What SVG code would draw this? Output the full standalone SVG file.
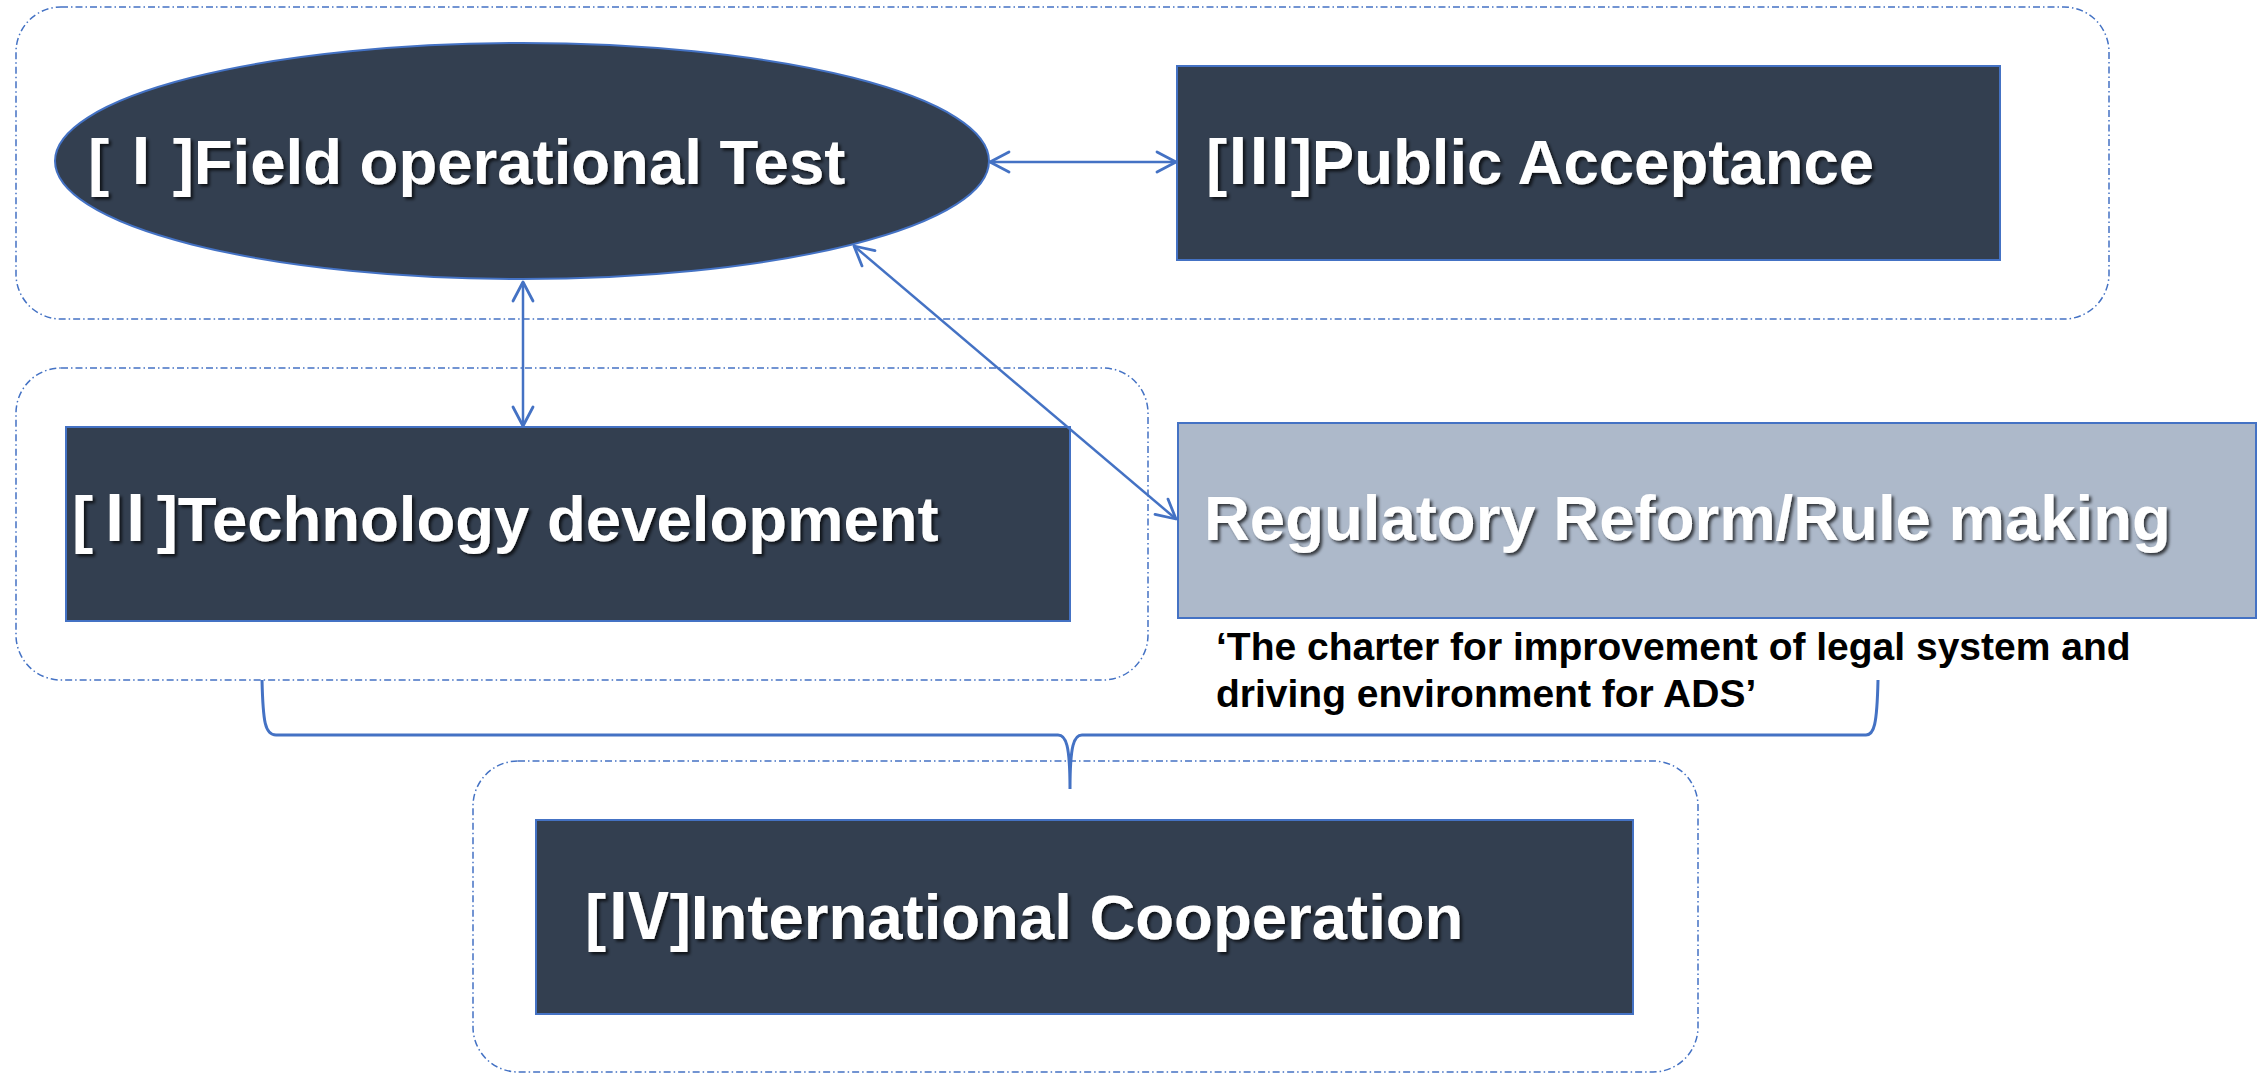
<svg xmlns="http://www.w3.org/2000/svg" width="2264" height="1074" viewBox="0 0 2264 1074">
  <defs>
    <filter id="shadow" x="-5%" y="-20%" width="110%" height="140%">
      <feDropShadow dx="2.5" dy="2.5" stdDeviation="1.5" flood-color="#000000" flood-opacity="0.7"/>
    </filter>
    <marker id="arrow" viewBox="-22 -12 26 24" refX="0" refY="0" markerWidth="26" markerHeight="24" markerUnits="userSpaceOnUse" orient="auto-start-reverse">
      <path d="M -19 -10 L 0 0 L -19 10" fill="none" stroke="#4472C4" stroke-width="2.8" stroke-linecap="round" stroke-linejoin="round"/>
    </marker>
  </defs>
  <style>
    .frame { fill: none; stroke: #4472C4; stroke-width: 1.5; stroke-dasharray: 7 3 1.5 3; }
    .dark { fill: #333F50; stroke: #4472C4; stroke-width: 2; }
    .light { fill: #ADB9CA; stroke: #4472C4; stroke-width: 2; }
    .title { font-family: "Liberation Sans", Arial, sans-serif; font-weight: bold; font-size: 63.5px; fill: #FFFFFF; filter: url(#shadow); }
    .num { font-family: "Noto Sans CJK KR", "Liberation Sans", sans-serif; font-weight: bold; }
    .note { font-family: "Liberation Sans", Arial, sans-serif; font-weight: bold; font-size: 39px; fill: #000000; }
    .conn { fill: none; stroke: #4472C4; stroke-width: 2.5; }
    .brace { fill: none; stroke: #4472C4; stroke-width: 3; }
  </style>

  <g id="frames">
    <rect class="frame" x="16" y="7" width="2093" height="312" rx="45" ry="45"/>
    <rect class="frame" x="16" y="368" width="1132" height="312" rx="45" ry="45"/>
    <rect class="frame" x="473" y="761" width="1225" height="311" rx="45" ry="45"/>
  </g>

  <g id="node-field-test">
    <ellipse class="dark" cx="522" cy="161" rx="467" ry="118"/>
    <text class="title" x="88" y="184">[<tspan class="num">Ⅰ</tspan>]Field operational Test</text>
  </g>

  <g id="node-public-acceptance">
    <rect class="dark" x="1177" y="66" width="823" height="194"/>
    <text class="title" x="1206" y="184">[<tspan class="num">Ⅲ</tspan>]Public Acceptance</text>
  </g>

  <g id="node-technology">
    <rect class="dark" x="66" y="427" width="1004" height="194"/>
    <text class="title" x="72" y="541">[<tspan class="num">Ⅱ</tspan>]Technology development</text>
  </g>

  <g id="node-regulatory">
    <rect class="light" x="1178" y="423" width="1078" height="195"/>
    <text class="title" x="1204" y="540">Regulatory Reform/Rule making</text>
    <text class="note" x="1216" y="660">‘The charter for improvement of legal system and</text>
    <text class="note" x="1216" y="707">driving environment for ADS’</text>
  </g>

  <g id="node-international">
    <rect class="dark" x="536" y="820" width="1097" height="194"/>
    <text class="title" x="585" y="939">[<tspan class="num">Ⅳ</tspan>]International Cooperation</text>
  </g>

  <g id="connectors">
    <line class="conn" x1="990" y1="162" x2="1176" y2="162" marker-start="url(#arrow)" marker-end="url(#arrow)"/>
    <line class="conn" x1="523" y1="282" x2="523" y2="426" marker-start="url(#arrow)" marker-end="url(#arrow)"/>
    <line class="conn" x1="854" y1="246" x2="1176" y2="519" marker-start="url(#arrow)" marker-end="url(#arrow)"/>
    <path class="brace" d="M 262 680 C 263 722 265 735 276 735 L 1058 735 C 1066 735 1070 745 1070 789 C 1070 745 1074 735 1082 735 L 1866 735 C 1874 735 1877 725 1878 680"/>
  </g>
</svg>
